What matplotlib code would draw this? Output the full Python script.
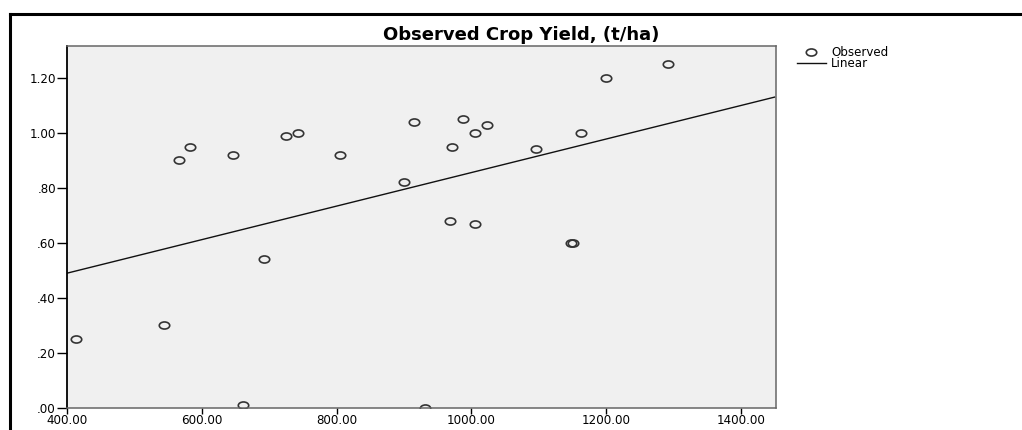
import matplotlib
matplotlib.use("Agg")
import matplotlib.pyplot as plt
import numpy as np
from matplotlib.path import Path
from matplotlib.lines import Line2D
from matplotlib.ticker import FuncFormatter

# observed points
rain = [414, 544, 566, 583, 646, 661, 692, 725, 742, 805, 900, 915, 931,
        968, 971, 988, 1005, 1005, 1023, 1096, 1148, 1151, 1162, 1200, 1292]
crop_yield = [0.25, 0.30, 0.90, 0.95, 0.92, 0.01, 0.54, 0.99, 1.00, 0.92, 0.82, 1.04, 0.00,
              0.68, 0.95, 1.05, 1.00, 0.67, 1.03, 0.94, 0.60, 0.60, 1.00, 1.20, 1.25]

# linear fit line, ends
fit_x = [400, 1450]
fit_y = [0.49, 1.13]

x_ticks = [400, 600, 800, 1000, 1200, 1400]
y_ticks = [0.0, 0.2, 0.4, 0.6, 0.8, 1.0, 1.2]

plt.rcParams["font.family"] = ["DejaVu Sans"]

# flattened circle like the SPSS marker
circ = Path.unit_circle()
ellipse = Path(circ.vertices * np.array([1.0, 0.68]), circ.codes)

fig = plt.figure(figsize=(10.22, 4.30), dpi=100)
ax = fig.add_axes([0.0656, 0.0512, 0.6937, 0.842])
ax.set_facecolor("#f0f0f0")

ax.plot(rain, crop_yield, linestyle="none", marker=ellipse, markersize=7.5,
        markerfacecolor="none", markeredgecolor="#333333", markeredgewidth=1.2,
        label="Observed")
ax.plot(fit_x, fit_y, color="#111111", linewidth=1.0, label="Linear")

ax.set_xlim(400, 1452)
ax.set_ylim(0, 1.316)
ax.set_xticks(x_ticks)
ax.set_yticks(y_ticks)
ax.xaxis.set_major_formatter(FuncFormatter(lambda v, p: f"{v:.2f}"))
ax.yaxis.set_major_formatter(FuncFormatter(lambda v, p: f"{v:.2f}".lstrip("0") if v < 1 else f"{v:.2f}"))
ax.tick_params(axis="x", direction="out", length=4, width=1, labelsize=8.6, pad=0.5)
ax.tick_params(axis="y", direction="out", length=7, width=1, labelsize=8.6, pad=1)

ax.spines["left"].set_color("black")
ax.spines["left"].set_linewidth(1.3)
for s in ("top", "right", "bottom"):
    ax.spines[s].set_color("#666666")
    ax.spines[s].set_linewidth(1.1)

fig.text(0.51, 0.919, "Observed Crop Yield, (t/ha)", ha="center", va="center",
         fontsize=13, fontweight="bold")

ax.legend(loc="upper left", bbox_to_anchor=(1.0296, 1.0), frameon=False,
          fontsize=8.6, handlelength=2.4, handletextpad=0.45, labelspacing=-0.12,
          borderaxespad=0, borderpad=0)

# outer frame (top and left only, the rest is cropped)
fig.add_artist(Line2D([10 / 1022, 1.0], [1 - 13.5 / 430, 1 - 13.5 / 430],
                      color="black", linewidth=2.2, transform=fig.transFigure))
fig.add_artist(Line2D([10 / 1022, 10 / 1022], [0.0, 1 - 13.5 / 430],
                      color="black", linewidth=2.2, transform=fig.transFigure))

fig.savefig("out.png", dpi=100)
